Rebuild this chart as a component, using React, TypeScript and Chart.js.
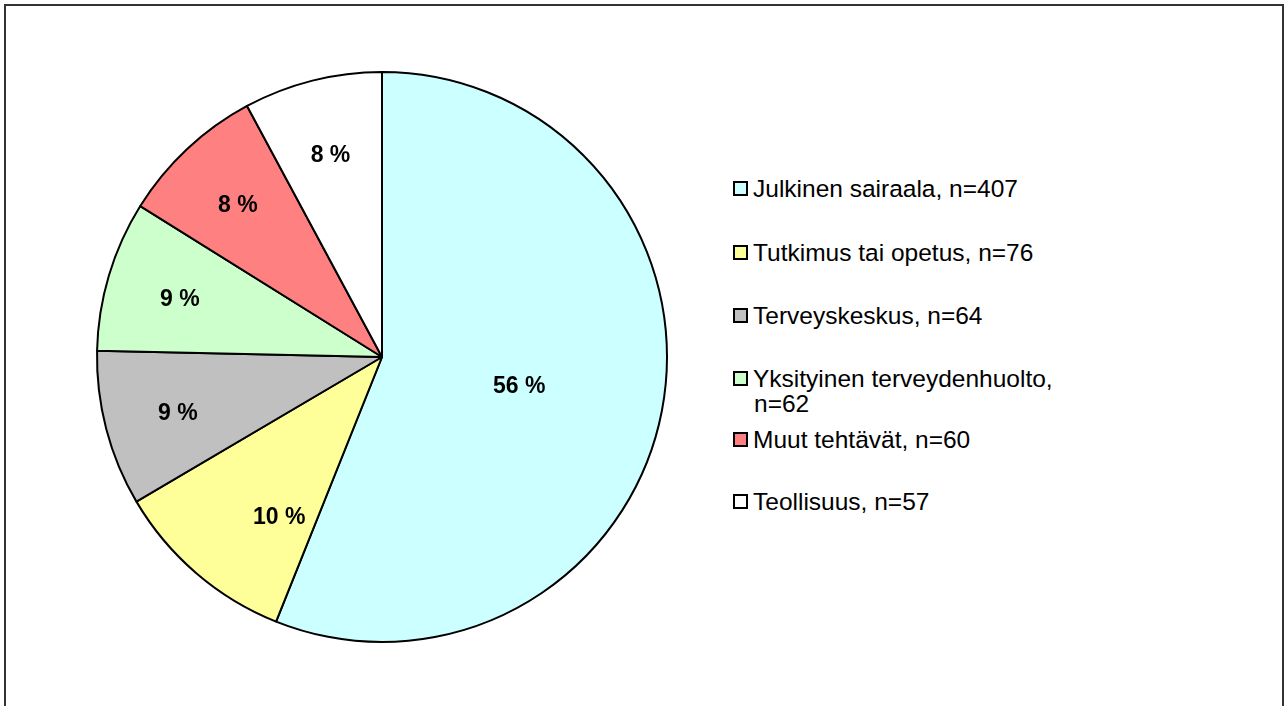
import React, { useEffect, useRef } from "react";
import { Chart, registerables } from "chart.js";

Chart.register(...registerables);

const categories = [
  "Julkinen sairaala, n=407",
  "Tutkimus tai opetus, n=76",
  "Terveyskeskus, n=64",
  "Yksityinen terveydenhuolto, n=62",
  "Muut tehtävät, n=60",
  "Teollisuus, n=57",
];
const legendLines = [
  ["Julkinen sairaala, n=407"],
  ["Tutkimus tai opetus, n=76"],
  ["Terveyskeskus, n=64"],
  ["Yksityinen terveydenhuolto,", "n=62"],
  ["Muut tehtävät, n=60"],
  ["Teollisuus, n=57"],
];
const counts = [407, 76, 64, 62, 60, 57];
const colors = ["#CCFFFF", "#FFFF99", "#C0C0C0", "#CCFFCC", "#FF8080", "#FFFFFF"];
const legendTops = [189, 253, 316, 379, 440, 502];

const total = counts.reduce((a, b) => a + b, 0);
const percentLabels = counts.map((v) => Math.round((v / total) * 100) + " %");

const labelPlugin = {
  id: "sliceLabels",
  afterDatasetsDraw(chart: any) {
    const ctx = chart.ctx;
    const meta = chart.getDatasetMeta(0);
    ctx.save();
    ctx.font = "bold 23px 'Liberation Sans', Arial, sans-serif";
    ctx.fillStyle = "#000";
    ctx.textAlign = "center";
    ctx.textBaseline = "middle";
    meta.data.forEach((arc: any, i: number) => {
      const p = arc.getProps(["x", "y", "startAngle", "endAngle", "outerRadius"], true);
      const span = p.endAngle - p.startAngle;
      let frac = 0.5;
      let f = 0.74;
      if (span > Math.PI) f = 0.49;
      else if (span > 0.6) {
        f = 0.66;
        frac = 0.3;
      }
      const ang = p.startAngle + span * frac;
      const r = p.outerRadius * f;
      ctx.fillText(percentLabels[i], p.x + Math.cos(ang) * r, p.y + Math.sin(ang) * r + 3);
    });
    ctx.restore();
  },
};

export default function App() {
  const ref = useRef<HTMLCanvasElement | null>(null);
  useEffect(() => {
    if (!ref.current) return;
    const chart = new Chart(ref.current, {
      type: "pie",
      data: {
        labels: categories,
        datasets: [
          {
            data: counts,
            backgroundColor: colors,
            borderColor: "#000000",
            borderWidth: 2,
            radius: 285,
          } as any,
        ],
      },
      options: {
        responsive: false,
        animation: false,
        layout: { padding: 0 },
        plugins: { legend: { display: false }, tooltip: { enabled: false } },
      },
      plugins: [labelPlugin],
    });
    return () => chart.destroy();
  }, []);

  return (
    <div
      style={{
        position: "absolute",
        left: 0,
        top: 0,
        width: 1284,
        height: 706,
        overflow: "hidden",
        background: "#fff",
        fontFamily: "'Liberation Sans', Arial, sans-serif",
      }}
    >
      <div
        style={{
          position: "absolute",
          left: 4,
          top: 4,
          width: 1280,
          height: 800,
          border: "2px solid #333",
          boxSizing: "border-box",
        }}
      />
      <canvas
        ref={ref}
        width={600}
        height={590}
        style={{ position: "absolute", left: 82, top: 62, width: 600, height: 590 }}
      />
      {legendLines.map((lines, i) => (
        <div
          key={i}
          style={{
            position: "absolute",
            left: 733,
            top: legendTops[i] - 13,
            fontSize: 24.5,
            lineHeight: "25px",
            color: "#000",
          }}
        >
          <div
            style={{
              position: "absolute",
              left: 0,
              top: 5,
              width: 15,
              height: 15,
              boxSizing: "border-box",
              border: "2px solid #000",
              background: colors[i],
            }}
          />
          <div style={{ marginLeft: 20, whiteSpace: "nowrap" }}>
            {lines.map((t, j) => (
              <div key={j} style={{ paddingLeft: j > 0 ? 1 : 0 }}>
                {t}
              </div>
            ))}
          </div>
        </div>
      ))}
    </div>
  );
}
